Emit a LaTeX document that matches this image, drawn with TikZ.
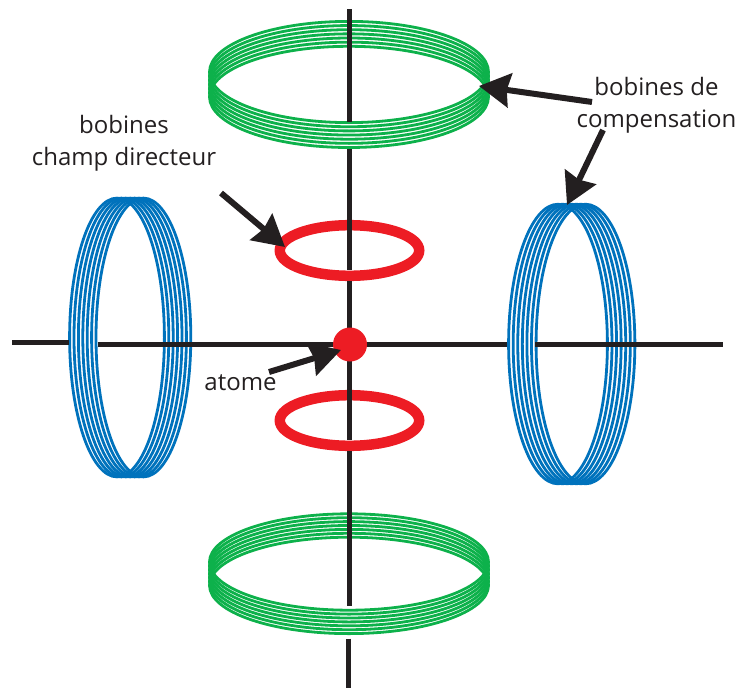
\documentclass[tikz,border=0pt]{standalone}
\usepackage{fontspec}
\setmainfont{Open Sans}
\usetikzlibrary{arrows.meta}
\definecolor{cgreen}{HTML}{0DB14B}
\definecolor{cblue}{HTML}{0072BC}
\definecolor{cred}{HTML}{ED1C24}
\definecolor{cblack}{HTML}{231F20}
\tikzset{
  x=1pt,y=-1pt,
  greencoil/.style={draw=cgreen,line width=2.8pt},
  bluecoil/.style={draw=cblue,line width=2.8pt},
  redcoil/.style={draw=cred,line width=10.5pt},
  axisline/.style={draw=cblack,line width=5pt},
  pointer/.style={draw=cblack,line width=6pt,-{Stealth[length=31pt,width=34pt,inset=3pt]}},
  lbl/.style={text=cblack,font=\fontsize{24}{32}\selectfont,align=center,inner sep=0pt},
}
\begin{document}
\begin{tikzpicture}
\useasboundingbox (0,0) rectangle (739,688);
% coils
\foreach \i in {0,...,6}{
  \draw[greencoil] ({349},{72+4.15*\i}) ellipse [x radius=139.5,y radius=50.6];
  \draw[greencoil] ({349},{562+3.9*\i}) ellipse [x radius=139.5,y radius=48.2];
  \draw[bluecoil] ({558+4.58*\i},344) ellipse [x radius=49.4,y radius=139.8];
  \draw[bluecoil] ({117+4.4*\i},337.5) ellipse [x radius=47.4,y radius=139.4];
}
% red coils
\draw[redcoil] (349.5,250.5) ellipse [x radius=69.7,y radius=25.3];
\draw[redcoil] (349.5,420.5) ellipse [x radius=69.7,y radius=25.3];
% axes
\coordinate (vtop) at (349.5,9);
\coordinate (vgapa) at (349.5,122);
\coordinate (vgapb) at (349.5,149);
\coordinate (vgapc) at (349.5,270);
\coordinate (vgapd) at (349.5,281);
\coordinate (vgape) at (349.5,440);
\coordinate (vgapf) at (349.5,451);
\coordinate (vgapg) at (349.5,605.5);
\coordinate (vlowa) at (348,638.5);
\coordinate (vlowb) at (348,688);
\coordinate (hleft) at (12,342);
\coordinate (hlefta) at (69,342);
\coordinate (hmida) at (97.5,344);
\coordinate (hmidb) at (507,344);
\coordinate (hrighta) at (535,344);
\coordinate (hrightb) at (723,344);
\path[axisline] (vtop) -- (vgapa) (vgapb) -- (vgapc) (vgapd) -- (vgape) (vgapf) -- (vgapg) (vlowa) -- (vlowb)
  (hleft) -- (hlefta) (hmida) -- (hmidb) (hrighta) -- (hrightb);
% atom
\node[circle,fill=cred,inner sep=0pt,minimum size=34pt] (atom) at (350,344.5) {};
% labels
\node[lbl] (chdir) at (124,143) {bobines\\champ directeur};
\node[lbl] (comp) at (656.5,105) {bobines de\\compensation};
\node[lbl] (atm) at (240.5,383) {atome};
% arrows
\coordinate (a1s) at (592,102); \coordinate (a1e) at (479,86);
\coordinate (a2s) at (603,130); \coordinate (a2e) at (567,205);
\coordinate (a3s) at (221,193); \coordinate (a3e) at (285,247);
\coordinate (a4s) at (269,372); \coordinate (a4e) at (341,350);
\draw[pointer] (a1s) -- (a1e);
\draw[pointer] (a2s) -- (a2e);
\draw[pointer] (a3s) -- (a3e);
\draw[pointer] (a4s) -- (a4e);
\end{tikzpicture}
\end{document}
